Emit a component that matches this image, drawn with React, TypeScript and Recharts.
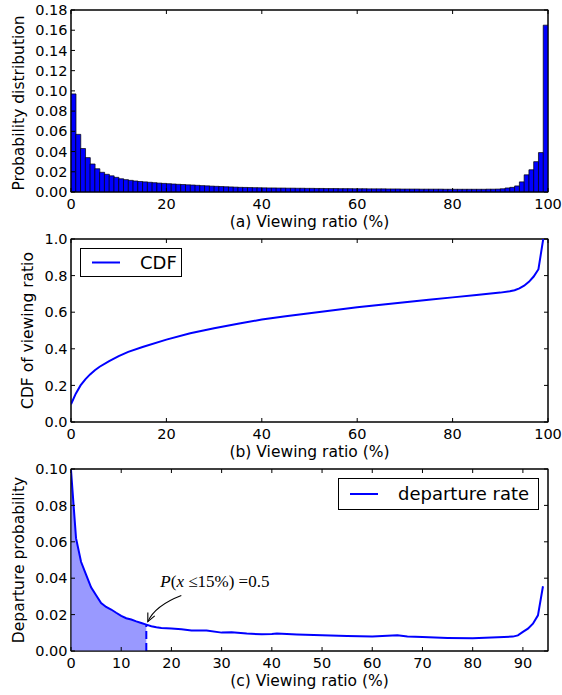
import React from 'react';
import * as RechartsNS from 'recharts';
import {
  ComposedChart, Bar, Line, Area, XAxis, YAxis, Legend,
  ReferenceLine, ReferenceDot,
} from 'recharts';

// ---------- Panel (a): histogram of viewing ratio (1% bins) ----------
const histBins = [
  0.097, 0.057, 0.043, 0.034, 0.0277, 0.023, 0.0195, 0.0175, 0.016, 0.0145,
  0.0131, 0.0122, 0.0115, 0.0109, 0.0104, 0.0100, 0.0096, 0.0092, 0.0088, 0.0085,
  0.0082, 0.0079, 0.0076, 0.0074, 0.0071, 0.0069, 0.0066, 0.0063, 0.0061, 0.0058,
  0.0056, 0.0054, 0.0052, 0.0050, 0.0048, 0.0046, 0.0045, 0.0044, 0.0043, 0.0042,
  0.0041, 0.0040, 0.0040, 0.0039, 0.0039, 0.0038, 0.0038, 0.0037, 0.0037, 0.0036,
  0.0036, 0.0035, 0.0035, 0.0034, 0.0034, 0.0034, 0.0033, 0.0033, 0.0033, 0.0032,
  0.0032, 0.0032, 0.0031, 0.0031, 0.0031, 0.0031, 0.0030, 0.0030, 0.0030, 0.0029,
  0.0029, 0.0029, 0.0029, 0.0028, 0.0028, 0.0028, 0.0028, 0.0028, 0.0027, 0.0027,
  0.0027, 0.0027, 0.0027, 0.0027, 0.0027, 0.0027, 0.0027, 0.0028, 0.0028, 0.0029,
  0.0032, 0.0040, 0.0046, 0.0060, 0.0100, 0.0170, 0.0220, 0.0300, 0.0390, 0.1650,
];
const xTicksA = [0, 20, 40, 60, 80, 100];
const yTicksA = [0, 0.02, 0.04, 0.06, 0.08, 0.1, 0.12, 0.14, 0.16, 0.18];

// ---------- Panel (b): CDF ----------
const cdfX = [0, 1, 2, 3, 4, 5, 6, 8, 10, 12, 15, 20, 25, 30, 35, 40, 45, 50, 55, 60, 65, 70, 75, 80, 85, 90, 92, 93, 94, 95, 96, 97, 98, 99];
const cdfY = [0.097, 0.155, 0.2, 0.233, 0.26, 0.283, 0.302, 0.333, 0.36, 0.383, 0.41, 0.45, 0.485, 0.512, 0.537, 0.56, 0.578, 0.594, 0.611, 0.627, 0.641, 0.655, 0.668, 0.681, 0.694, 0.707, 0.714, 0.72, 0.73, 0.745, 0.766, 0.795, 0.835, 1.0];
const xTicksB = [0, 20, 40, 60, 80, 100];
const yTicksB = [0, 0.2, 0.4, 0.6, 0.8, 1.0];

// ---------- Panel (c): departure rate ----------
const depX = [0, 1, 2, 3, 4, 5, 6, 7, 8, 9, 10, 11, 12, 13, 14, 15, 16, 17, 18, 20, 22, 24, 27, 30, 32, 35, 38, 40, 41, 45, 50, 55, 60, 65, 67, 70, 75, 80, 85, 88, 89, 90, 91, 92, 93, 94];
const depY = [0.0994, 0.062, 0.049, 0.042, 0.035, 0.0306, 0.0264, 0.0242, 0.0228, 0.021, 0.0193, 0.018, 0.0173, 0.0163, 0.0154, 0.0145, 0.0136, 0.013, 0.0127, 0.0123, 0.012, 0.0113, 0.0113, 0.0101, 0.0103, 0.0096, 0.0092, 0.0094, 0.0096, 0.0091, 0.0086, 0.0083, 0.0079, 0.0086, 0.008, 0.0077, 0.0072, 0.007, 0.0075, 0.0079, 0.0086, 0.0105, 0.0123, 0.015, 0.0196, 0.0356];
const xTicksC = [0, 10, 20, 30, 40, 50, 60, 70, 80, 90];
const yTicksC = [0, 0.02, 0.04, 0.06, 0.08, 0.1];
const shadeLimit = 15;
const annotationText = { pre: 'P', open: '(', v: 'x', rest: ' \u226415%) =0.5' };

const histTable = histBins.map((p, i) => ({ x: i + 0.5, y: p }));
const cdfTable = cdfX.map((x, i) => ({ x, y: cdfY[i] }));
const depTable = depX.map((x, i) => ({ x, y: depY[i], fill: x <= shadeLimit ? depY[i] : null }));
const shadeY = depY[depX.indexOf(shadeLimit)];

const FONT = 'DejaVu Sans';
const tickStyle = { fill: '#000', fontSize: 14.5, fontFamily: FONT };

const RA: any = RechartsNS;
const usePlotAreaSafe: () => any = typeof RA.usePlotArea === 'function' ? RA.usePlotArea : () => null;

// Axes box with inward ticks on the top and right spines, drawn from the chart's plot area
const Frame = ({ xMax, yMax, xTicks, yTicks }: { xMax: number; yMax: number; xTicks: number[]; yTicks: number[] }) => {
  const area = usePlotAreaSafe();
  if (!area || !(area.width > 0)) return null;
  const { x, y, width, height } = area;
  const px = (v: number) => x + (v / xMax) * width;
  const py = (v: number) => y + height - (v / yMax) * height;
  return (
    <g className="axes-frame">
      <rect x={x} y={y} width={width} height={height} fill="none" stroke="#000" strokeWidth={1} />
      {xTicks.map((t) => (
        <line key={`ft${t}`} x1={px(t)} x2={px(t)} y1={y} y2={y + 4} stroke="#000" strokeWidth={1} />
      ))}
      {yTicks.map((t) => (
        <line key={`fr${t}`} x1={x + width - 4} x2={x + width} y1={py(t)} y2={py(t)} stroke="#000" strokeWidth={1} />
      ))}
    </g>
  );
};

const XLabel = (props: any) => {
  const vb = props.viewBox || {};
  return (
    <text x={vb.x + vb.width / 2} y={vb.y + 35} textAnchor="middle" fontFamily={FONT} fontSize={15.5} fill="#000">
      {props.text}
    </text>
  );
};

const YLabel = (props: any) => {
  const vb = props.viewBox || {};
  const x = (vb.x || 0) + props.dx;
  const y = vb.y + vb.height / 2 + (props.dy || 0);
  return (
    <text x={x} y={y} transform={`rotate(-90 ${x} ${y})`} textAnchor="middle" dominantBaseline="central" fontFamily={FONT} fontSize={15.5} fill="#000">
      {props.text}
    </text>
  );
};

const LegendBox = ({ w, h, label }: { w: number; h: number; label: string }) => (
  <div style={{ width: w, height: h, border: '1px solid #000', background: '#fff', position: 'relative', boxSizing: 'border-box', fontFamily: FONT, fontSize: 18, color: '#000' }}>
    <svg width={30} height={h - 2} style={{ position: 'absolute', left: 11, top: 0 }}>
      <line x1={0} x2={28} y1={(h - 2) / 2} y2={(h - 2) / 2} stroke="#0000ff" strokeWidth={2} />
    </svg>
    <span style={{ position: 'absolute', left: 59, top: 0, lineHeight: `${h - 2}px`, whiteSpace: 'nowrap' }}>{label}</span>
  </div>
);

const Annotation = (props: any) => {
  const { cx, cy } = props;
  const tail = [cx + 35, cy - 29];
  const ctrl = [cx + 9, cy - 19];
  const tip = [cx + 1.5, cy - 3];
  const dx = tip[0] - ctrl[0];
  const dy = tip[1] - ctrl[1];
  const len = Math.hypot(dx, dy);
  const ux = -dx / len, uy = -dy / len;
  const a = (25 * Math.PI) / 180;
  const L = 9;
  const h1 = [tip[0] + L * (ux * Math.cos(a) - uy * Math.sin(a)), tip[1] + L * (ux * Math.sin(a) + uy * Math.cos(a))];
  const h2 = [tip[0] + L * (ux * Math.cos(-a) - uy * Math.sin(-a)), tip[1] + L * (ux * Math.sin(-a) + uy * Math.cos(-a))];
  return (
    <g>
      <path d={`M${tail[0]},${tail[1]} Q${ctrl[0]},${ctrl[1]} ${tip[0]},${tip[1]}`} fill="none" stroke="#000" strokeWidth={1.1} />
      <path d={`M${h1[0]},${h1[1]} L${tip[0]},${tip[1]} L${h2[0]},${h2[1]}`} fill="none" stroke="#000" strokeWidth={1.1} />
      <text x={cx + 14} y={cy - 38} fontFamily="Liberation Serif" fontSize={17} fill="#000">
        <tspan fontStyle="italic">{annotationText.pre}</tspan>
        <tspan>{annotationText.open}</tspan>
        <tspan fontStyle="italic">{annotationText.v}</tspan>
        <tspan>{annotationText.rest}</tspan>
      </text>
    </g>
  );
};

export default function App() {
  return (
    <div style={{ position: 'absolute', left: 0, top: 0, width: 562, height: 695, background: '#fff' }}>
      {/* Panel (a) */}
      <div style={{ position: 'absolute', left: 0, top: 0 }}>
        <ComposedChart width={562} height={232} data={histTable} margin={{ top: 10, right: 14, bottom: 0, left: 0 }} barCategoryGap={0} barGap={0}>
          <XAxis type="number" dataKey="x" domain={[0, 100]} ticks={xTicksA} allowDataOverflow interval={0}
            tickSize={-4} tickMargin={11} stroke="#000" tick={tickStyle} height={40}
            label={<XLabel text="(a) Viewing ratio (%)" />} />
          <YAxis type="number" domain={[0, 0.18]} ticks={yTicksA} allowDataOverflow interval={0}
            tickSize={-4} tickMargin={7.5} stroke="#000" tick={tickStyle} width={71}
            tickFormatter={(v: number) => v.toFixed(2)}
            label={<YLabel text="Probability distribution" dx={19} dy={2} />} />
          <Bar dataKey="y" fill="#0000ff" stroke="#000" strokeWidth={0.7} isAnimationActive={false} />
          <ReferenceLine ifOverflow="visible" segment={[{ x: 0, y: 0.18 }, { x: 100, y: 0.18 }]} stroke="#000" strokeWidth={1} />
          <ReferenceLine ifOverflow="visible" segment={[{ x: 100, y: 0 }, { x: 100, y: 0.18 }]} stroke="#000" strokeWidth={1} />
          <Frame xMax={100} yMax={0.18} xTicks={xTicksA} yTicks={yTicksA} />
        </ComposedChart>
      </div>

      {/* Panel (b) */}
      <div style={{ position: 'absolute', left: 0, top: 232 }}>
        <ComposedChart width={562} height={230} data={cdfTable} margin={{ top: 7, right: 14, bottom: 0, left: 0 }}>
          <XAxis type="number" dataKey="x" domain={[0, 100]} ticks={xTicksB} allowDataOverflow interval={0}
            tickSize={-4} tickMargin={11} stroke="#000" tick={tickStyle} height={40}
            label={<XLabel text="(b) Viewing ratio (%)" />} />
          <YAxis type="number" domain={[0, 1]} ticks={yTicksB} allowDataOverflow interval={0}
            tickSize={-4} tickMargin={7.5} stroke="#000" tick={tickStyle} width={71}
            tickFormatter={(v: number) => v.toFixed(1)}
            label={<YLabel text="CDF of viewing ratio" dx={28} />} />
          <ReferenceLine ifOverflow="visible" segment={[{ x: 0, y: 1 }, { x: 100, y: 1 }]} stroke="#000" strokeWidth={1} />
          <ReferenceLine ifOverflow="visible" segment={[{ x: 100, y: 0 }, { x: 100, y: 1 }]} stroke="#000" strokeWidth={1} />
          <Frame xMax={100} yMax={1} xTicks={xTicksB} yTicks={yTicksB} />
          <Line type="linear" dataKey="y" stroke="#0000ff" strokeWidth={2} dot={false} isAnimationActive={false} name="CDF" />
          <Legend layout="vertical" align="center" verticalAlign="middle"
            wrapperStyle={{ top: 16, left: 80, width: 102, height: 29 }}
            content={<LegendBox w={102} h={29} label="CDF" />} />
        </ComposedChart>
      </div>

      {/* Panel (c) */}
      <div style={{ position: 'absolute', left: 0, top: 462 }}>
        <ComposedChart width={562} height={233} data={depTable} margin={{ top: 7, right: 14, bottom: 0, left: 0 }}>
          <XAxis type="number" dataKey="x" domain={[0, 95]} ticks={xTicksC} allowDataOverflow interval={0}
            tickSize={-4} tickMargin={11} stroke="#000" tick={tickStyle} height={44}
            label={<XLabel text="(c) Viewing ratio (%)" />} />
          <YAxis type="number" domain={[0, 0.1]} ticks={yTicksC} allowDataOverflow interval={0}
            tickSize={-4} tickMargin={7.5} stroke="#000" tick={tickStyle} width={71}
            tickFormatter={(v: number) => v.toFixed(2)}
            label={<YLabel text="Departure probability" dx={19} />} />
          <Area type="linear" dataKey="fill" fill="#9999ff" fillOpacity={1} stroke="none" connectNulls={false} baseValue={0} isAnimationActive={false} legendType="none" />
          <ReferenceLine ifOverflow="visible" segment={[{ x: 0, y: 0.1 }, { x: 95, y: 0.1 }]} stroke="#000" strokeWidth={1} />
          <ReferenceLine ifOverflow="visible" segment={[{ x: 95, y: 0 }, { x: 95, y: 0.1 }]} stroke="#000" strokeWidth={1} />
          <Frame xMax={95} yMax={0.1} xTicks={xTicksC} yTicks={yTicksC} />
          <Line type="linear" dataKey="y" stroke="#0000ff" strokeWidth={2} dot={false} isAnimationActive={false} name="departure rate" />
          <ReferenceLine segment={[{ x: shadeLimit, y: 0 }, { x: shadeLimit, y: shadeY }]} stroke="#0000ff" strokeWidth={2} strokeDasharray="8 4" />
          <ReferenceDot x={shadeLimit} y={shadeY} r={0} shape={Annotation} />
          <Legend layout="vertical" align="center" verticalAlign="middle"
            wrapperStyle={{ top: 16, left: 338, width: 201, height: 32 }}
            content={<LegendBox w={201} h={32} label="departure rate" />} />
        </ComposedChart>
      </div>
    </div>
  );
}
